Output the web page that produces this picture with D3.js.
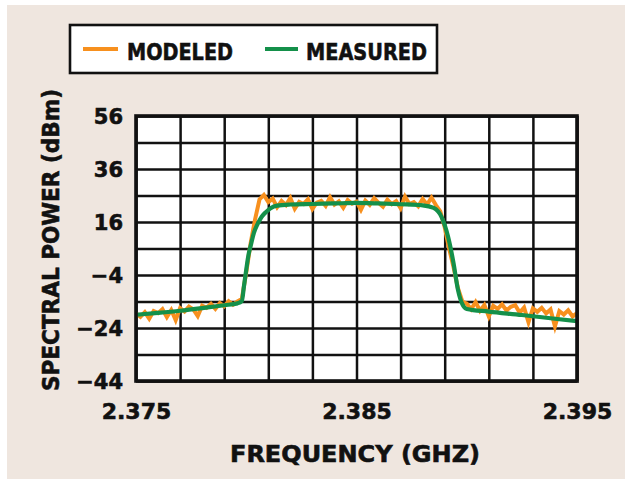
<!DOCTYPE html>
<html>
<head>
<meta charset="utf-8">
<script src="https://cdn.jsdelivr.net/npm/d3@7"></script>
<style>
    html, body { margin: 0; padding: 0; background: #ffffff; }
    svg { display: block; }
    text { font-family: "DejaVu Sans", sans-serif; font-weight: bold; fill: #111111; stroke: #111111; stroke-width: 0.6px; }
</style>
</head>
<body>
<svg id="chart" width="625" height="479"></svg>
<script>
// Data
const seriesNames = ["MODELED", "MEASURED"];
const xTickLabels = [2.375, 2.385, 2.395];
const yTickLabels = [56, 36, 16, -4, -24, -44];
const xGridVals = [2.375, 2.377, 2.379, 2.381, 2.383, 2.385, 2.387, 2.389, 2.391, 2.393, 2.395];
const yGridVals = [56, 46, 36, 26, 16, 6, -4, -14, -24, -34, -44];

// Measured spectrum (smooth green trace)
const measured = [
    [2.3750, -19.0], [2.3760, -18.3], [2.3770, -17.5], [2.3780, -16.5], [2.3790, -15.4],
    [2.3796, -14.7], [2.3798, -13.8], [2.3799, -8.0], [2.3800, -2.0], [2.3801, 3.5],
    [2.3802, 7.0], [2.38035, 12.0], [2.3805, 15.0], [2.3807, 18.0], [2.3809, 19.8],
    [2.3811, 21.2], [2.3814, 22.2], [2.3820, 22.6], [2.3830, 22.8], [2.3840, 23.0],
    [2.3850, 23.2], [2.3860, 23.0], [2.3870, 22.7], [2.3880, 22.3], [2.3885, 21.3],
    [2.38885, 18.0], [2.38915, 10.5], [2.3894, 0.5], [2.3896, -9.5], [2.3898, -15.0],
    [2.3900, -16.8], [2.3910, -17.8], [2.3925, -19.1], [2.3940, -20.5], [2.3950, -21.4]
];

// Modeled spectrum (noisy orange trace)
const modeled = [
    [2.3750, -18.5], [2.3752, -19.8], [2.3754, -18.0], [2.3756, -20.5], [2.3758, -17.6],
    [2.3760, -18.4], [2.3762, -16.9], [2.3764, -19.9], [2.3766, -17.2], [2.3768, -21.0],
    [2.3770, -16.5], [2.3772, -17.8], [2.3774, -15.9], [2.3776, -17.0], [2.3778, -19.5],
    [2.3780, -15.6], [2.3782, -16.4], [2.3784, -14.9], [2.3786, -16.8], [2.3788, -14.6],
    [2.3790, -15.8], [2.3792, -13.9], [2.3794, -15.2], [2.3796, -14.0], [2.3798, -13.0],
    [2.3800, -3.0], [2.3802, 8.0], [2.3804, 17.0], [2.3806, 24.5], [2.3808, 26.2],
    [2.3810, 23.5], [2.3812, 24.8], [2.3814, 21.6], [2.3816, 23.9], [2.3818, 22.4],
    [2.3820, 25.1], [2.3822, 21.0], [2.3824, 23.6], [2.3826, 22.8], [2.3828, 24.6],
    [2.3830, 20.9], [2.3832, 23.3], [2.3834, 24.0], [2.3836, 22.1], [2.3838, 25.4],
    [2.3840, 22.6], [2.3842, 23.8], [2.3844, 21.4], [2.3846, 24.3], [2.3848, 22.9],
    [2.3850, 23.7], [2.3852, 20.6], [2.3854, 24.1], [2.3856, 22.5], [2.3858, 25.0],
    [2.3860, 23.2], [2.3862, 21.8], [2.3864, 24.4], [2.3866, 22.7], [2.3868, 23.9],
    [2.3870, 21.2], [2.3872, 25.6], [2.3874, 22.8], [2.3876, 23.5], [2.3878, 21.9],
    [2.3880, 24.7], [2.3882, 22.6], [2.3884, 25.2], [2.3886, 22.4], [2.3888, 20.0],
    [2.3890, 14.0], [2.3892, 6.0], [2.3894, -1.0], [2.3896, -9.0], [2.3898, -14.0],
    [2.3900, -14.8], [2.3902, -16.9], [2.3904, -14.2], [2.3906, -17.5], [2.3908, -15.3],
    [2.3910, -19.6], [2.3912, -15.6], [2.3914, -16.8], [2.3916, -15.1], [2.3918, -17.4],
    [2.3920, -16.0], [2.3922, -15.4], [2.3924, -18.2], [2.3926, -16.3], [2.3928, -21.8],
    [2.3930, -16.6], [2.3932, -17.9], [2.3934, -16.4], [2.3936, -18.5], [2.3938, -17.0],
    [2.3940, -23.4], [2.3942, -17.6], [2.3944, -18.9], [2.3946, -17.3], [2.3948, -19.6],
    [2.3950, -18.4]
];

const seriesColors = ["#f7901e", "#14904a"];

// Plot frame in page pixels
const plotL = 136, plotR = 577, plotT = 116, plotB = 381;

const svg = d3.select("#chart");

// Beige panel behind everything
svg.append("rect")
    .attr("x", 7)
    .attr("y", 5)
    .attr("width", 618)
    .attr("height", 474)
    .attr("fill", "#efe6df");

const x = d3.scaleLinear().domain([2.375, 2.395]).range([plotL, plotR]);
const y = d3.scaleLinear().domain([-44, 56]).range([plotB, plotT]);

// Plot area: soft shadow, then white fill
svg.append("rect")
    .attr("x", plotL + 2)
    .attr("y", plotT + 2)
    .attr("width", plotR - plotL)
    .attr("height", plotB - plotT)
    .attr("fill", "#9a9590");
svg.append("rect")
    .attr("x", plotL)
    .attr("y", plotT)
    .attr("width", plotR - plotL)
    .attr("height", plotB - plotT)
    .attr("fill", "#ffffff");

// Grid lines drawn via axes with full-length ticks
const gridGroup = svg.append("g");
gridGroup.append("g")
    .attr("transform", `translate(0,${plotB})`)
    .call(d3.axisBottom(x).tickValues(xGridVals).tickSize(-(plotB - plotT)).tickFormat(""))
    .call(g => g.select(".domain").remove())
    .selectAll("line")
    .attr("stroke", "#111")
    .attr("stroke-width", 2.5);
gridGroup.append("g")
    .attr("transform", `translate(${plotL},0)`)
    .call(d3.axisLeft(y).tickValues(yGridVals).tickSize(-(plotR - plotL)).tickFormat(""))
    .call(g => g.select(".domain").remove())
    .selectAll("line")
    .attr("stroke", "#111")
    .attr("stroke-width", 2.5);

// Traces, clipped to the frame
svg.append("clipPath")
    .attr("id", "plotClip")
    .append("rect")
    .attr("x", plotL)
    .attr("y", plotT)
    .attr("width", plotR - plotL)
    .attr("height", plotB - plotT);

const line = d3.line()
    .x(d => x(d[0]))
    .y(d => y(d[1]));

const traceGroup = svg.append("g").attr("clip-path", "url(#plotClip)");
traceGroup.append("path")
    .datum(modeled)
    .attr("d", line)
    .attr("fill", "none")
    .attr("stroke", seriesColors[0])
    .attr("stroke-width", 4)
    .attr("stroke-linejoin", "miter")
    .attr("stroke-miterlimit", 4);
traceGroup.append("path")
    .datum(measured)
    .attr("d", line.curve(d3.curveMonotoneX))
    .attr("fill", "none")
    .attr("stroke", seriesColors[1])
    .attr("stroke-width", 4.2)
    .attr("stroke-linejoin", "round")
    .attr("stroke-linecap", "round");

// Frame on top
svg.append("rect")
    .attr("x", plotL)
    .attr("y", plotT)
    .attr("width", plotR - plotL)
    .attr("height", plotB - plotT)
    .attr("fill", "none")
    .attr("stroke", "#111")
    .attr("stroke-width", 3.6);

// Tick labels
const yLabGroup = svg.append("g")
    .attr("transform", `translate(${plotL - 13},0)`)
    .call(d3.axisLeft(y).tickValues(yTickLabels).tickSize(0).tickPadding(0))
    .call(g => g.select(".domain").remove());
yLabGroup.selectAll("text")
    .attr("font-size", "21px")
    .attr("font-family", "DejaVu Sans, sans-serif")
    .attr("font-weight", "bold")
    .attr("fill", "#111")
    .attr("dy", "0.36em");

const xLabGroup = svg.append("g")
    .attr("transform", `translate(0,${plotB + 22})`)
    .call(d3.axisBottom(x).tickValues(xTickLabels).tickSize(0).tickPadding(0).tickFormat(d3.format(".3f")))
    .call(g => g.select(".domain").remove());
xLabGroup.selectAll("text")
    .attr("font-size", "22px")
    .attr("font-family", "DejaVu Sans, sans-serif")
    .attr("font-weight", "bold")
    .attr("fill", "#111")
    .attr("dy", "0.71em");

// Axis titles
svg.append("text")
    .attr("x", 355)
    .attr("y", 462)
    .attr("text-anchor", "middle")
    .attr("font-size", "23px")
    .attr("textLength", 250)
    .attr("lengthAdjust", "spacingAndGlyphs")
    .text("FREQUENCY (GHZ)");

svg.append("text")
    .attr("transform", "translate(59,240) rotate(-90)")
    .attr("text-anchor", "middle")
    .attr("font-size", "23px")
    .attr("textLength", 302)
    .attr("lengthAdjust", "spacingAndGlyphs")
    .text("SPECTRAL POWER (dBm)");

// Legend box
const legend = svg.append("g");
legend.append("rect")
    .attr("x", 70)
    .attr("y", 25)
    .attr("width", 367)
    .attr("height", 48)
    .attr("fill", "#ffffff")
    .attr("stroke", "#111")
    .attr("stroke-width", 2.6);

const legendItems = [
    { x1: 83, x2: 118, tx: 127, tw: 106 },
    { x1: 265, x2: 298, tx: 306, tw: 121 }
];
legendItems.forEach((item, i) => {
    legend.append("line")
        .attr("x1", item.x1)
        .attr("x2", item.x2)
        .attr("y1", 49)
        .attr("y2", 49)
        .attr("stroke", seriesColors[i])
        .attr("stroke-width", 4);
    legend.append("text")
        .attr("x", item.tx)
        .attr("y", 60)
        .attr("font-size", "23px")
        .attr("textLength", item.tw)
        .attr("lengthAdjust", "spacingAndGlyphs")
        .text(seriesNames[i]);
});
</script>
</body>
</html>
